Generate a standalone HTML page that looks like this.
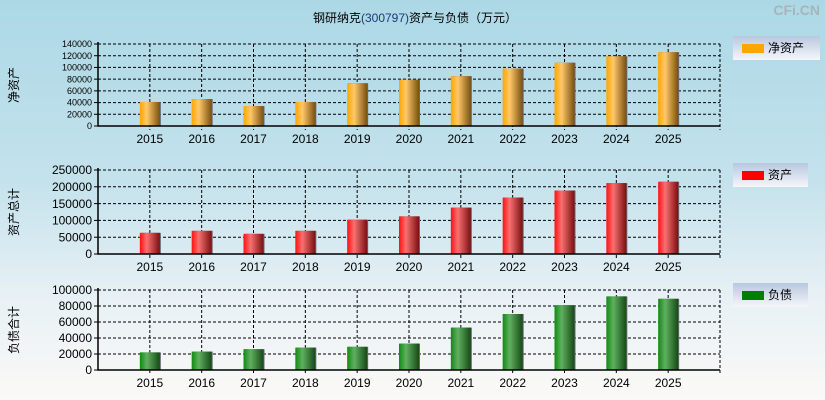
<!DOCTYPE html>
<html><head><meta charset="utf-8"><style>
body{margin:0;width:825px;height:400px;overflow:hidden;background:linear-gradient(#acd8e6 0%,#c4e2ec 45%,#e8f1f5 75%,#fbf9f7 100%);font-family:"Liberation Sans","Noto Sans CJK SC",sans-serif;}
svg{position:absolute;left:0;top:0}
</style></head><body>
<svg id="c" width="825" height="400">
<defs>
<linearGradient id="go" x1="0" x2="1"><stop offset="0" stop-color="#ffa500"/><stop offset="0.35" stop-color="#ffc86a"/><stop offset="1" stop-color="#7a5010"/></linearGradient>
<linearGradient id="gr" x1="0" x2="1"><stop offset="0" stop-color="#ff1010"/><stop offset="0.35" stop-color="#f87070"/><stop offset="1" stop-color="#7a1010"/></linearGradient>
<linearGradient id="gg" x1="0" x2="1"><stop offset="0" stop-color="#108a10"/><stop offset="0.35" stop-color="#60b060"/><stop offset="1" stop-color="#164a16"/></linearGradient>
<linearGradient id="lg" x1="0" y1="0" x2="0" y2="1"><stop offset="0" stop-color="#b8c8e0"/><stop offset="1" stop-color="#f6f6fa"/></linearGradient>
</defs>
<text x="415" y="22" font-size="12" text-anchor="middle">钢研纳克<tspan fill="#1a3a7a">(300797)</tspan>资产与负债（万元）</text>
<text x="820" y="15" font-size="14" fill="#a8b4bc" text-anchor="end" font-weight="bold">CFi.CN</text>
</svg>
<script>
const years=["2015","2016","2017","2018","2019","2020","2021","2022","2023","2024","2025"];
const netAssets=[41000,46000,34000,41000,73000,79000,85000,98000,108000,119000,126000];
const totalAssets=[63000,69000,60000,69000,102000,112000,138000,168000,189000,211000,215000];
const liabilities=[22000,23000,26000,28000,29000,33000,53000,70000,81000,92000,89000];
const ticksNet=[0,20000,40000,60000,80000,100000,120000,140000];
const ticksTotal=[0,50000,100000,150000,200000,250000];
const ticksLiab=[0,20000,40000,60000,80000,100000];
const svg=document.getElementById('c');const NS='http://www.w3.org/2000/svg';
function mk(t,a,p){const e=document.createElementNS(NS,t);for(const k in a)e.setAttribute(k,a[k]);(p||svg).appendChild(e);return e;}
const L=98,R=720,slot=(R-L)/12;
function panel(key,vals,ticks,top,bot,fill,tfs,title,legTxt,legCol,legY,legW){
  const max=ticks[ticks.length-1];
  const y=v=>bot-(v/max)*(bot-top);
  const x=i=>L+(i+1)*slot;
  const g=mk('g',{});
  
  
  ticks.forEach(t=>{
    if(t>0){const l=mk('line',{x1:L,x2:R,y1:y(t),y2:y(t),stroke:'#000','stroke-dasharray':'3,2','stroke-width':1},g);
    
    }
    const tk=mk('line',{x1:L-4,x2:L,y1:y(t),y2:y(t),stroke:'#000'},g);
    
    
    const tx=mk('text',{x:L-6,y:y(t)+tfs*0.35,'font-size':tfs,'text-anchor':'end',fill:'#000'},g);tx.textContent=t;
    
    
  });
  const rl=mk('line',{x1:R,x2:R,y1:top,y2:bot+4,stroke:'#000','stroke-dasharray':'3,2'},g);
  
  
  const tl=mk('line',{x1:L,x2:R,y1:top,y2:top,stroke:'#000','stroke-dasharray':'3,2'},g);
  
  
  years.forEach((yr,i)=>{
    const vl=mk('line',{x1:x(i),x2:x(i),y1:top,y2:bot+4,stroke:'#000','stroke-dasharray':'3,2'},g);
    
    
    const sh=mk('rect',{x:x(i)-9,y:y(vals[i]),width:20,height:bot-y(vals[i]),fill:'#667'},g);
    
    
    const b=mk('rect',{x:x(i)-10,y:y(vals[i]),width:20,height:bot-y(vals[i]),fill:fill},g);
    
    
    const lt=mk('text',{x:x(i),y:bot+17,'font-size':12,'text-anchor':'middle'},g);lt.textContent=yr;
    
    
  });
  const ax=mk('path',{d:`M${L} ${top-2}V${bot}H${R}`,stroke:'#000',fill:'none','stroke-width':1.5},g);
  
  
  const tt=mk('text',{x:0,y:0,'font-size':12,'text-anchor':'middle',transform:`translate(18,${(top+bot)/2}) rotate(-90)`},g);tt.textContent=title;
  
  
  const lg=mk('g',{},g);
  
  
  mk('rect',{x:733,y:legY,width:legW,height:24,fill:'url(#lg)'},lg);
  mk('rect',{x:742,y:legY+8,width:22,height:9,fill:legCol},lg);
  const ltx=mk('text',{x:768,y:legY+16,'font-size':12},lg);ltx.textContent=legTxt;
}
panel('net-assets',netAssets,ticksNet,44,126,'url(#go)',9,'净资产','净资产','#ffa500',36,87);
panel('total-assets',totalAssets,ticksTotal,170,254,'url(#gr)',12,'资产总计','资产','#ff0000',163,75);
panel('liabilities',liabilities,ticksLiab,290,370,'url(#gg)',12,'负债合计','负债','#008000',283,75);
</script>
</body></html>
